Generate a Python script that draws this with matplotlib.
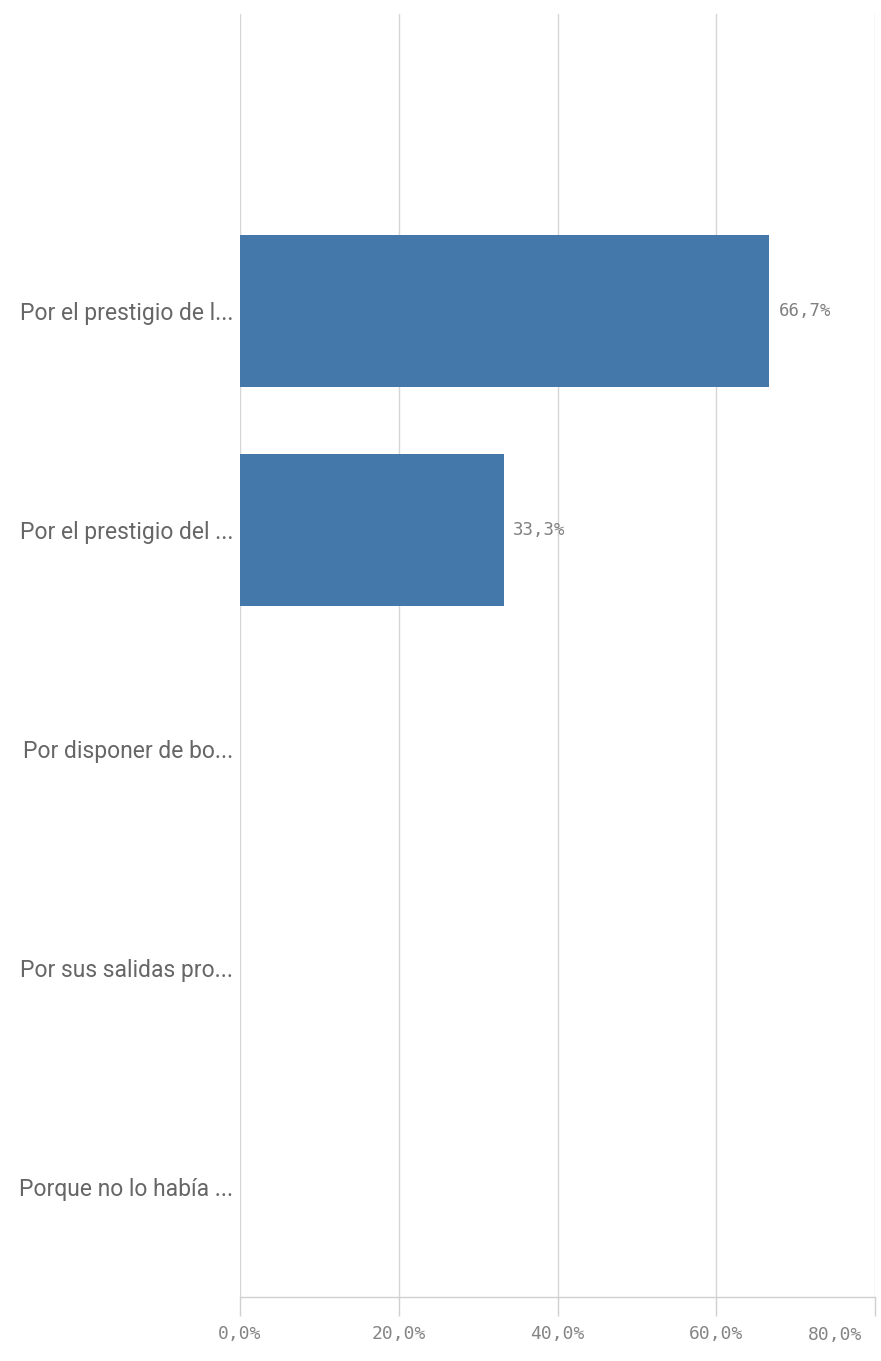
import matplotlib
matplotlib.use("Agg")
import matplotlib.pyplot as plt

categories = ["Por el prestigio de l...", "Por el prestigio del ...", "Por disponer de bo...",
              "Por sus salidas pro...", "Porque no lo había ..."]
values = [66.7, 33.3, 0, 0, 0]
value_labels = ["66,7%", "33,3%", "", "", ""]
xticks = [0, 20, 40, 60, 80]
xtick_labels = ["0,0%", "20,0%", "40,0%", "60,0%", "80,0%"]

W, H = 881, 1361
fig = plt.figure(figsize=(W / 100, H / 100), dpi=100)
fig.patch.set_facecolor("white")
ax = fig.add_axes([240 / W, 1 - 1297 / H, (875 - 240) / W, (1297 - 14) / H])

ypos = list(range(len(categories)))
ax.barh(ypos, values, height=0.69, color="#4477aa", zorder=3)
ax.set_xlim(0, 80)
ax.set_ylim(4.502, -1.356)

ax.set_yticks(ypos)
ax.set_yticklabels(categories, family="Roboto", fontsize=16.5, color="#666666")
ax.tick_params(axis="y", length=0, pad=5)

ax.set_xticks(xticks)
shown = xtick_labels[:-1] + [""]
ax.set_xticklabels(shown, family="DejaVu Sans Mono", fontsize=13, color="#858585")
ax.tick_params(axis="x", length=14, width=1, color="#d0d0d0", pad=6)
# last tick label kept inside the figure (right-aligned, as in the reference)
ax.annotate(xtick_labels[-1], (xticks[-1], 0), xycoords=("data", "axes fraction"),
            xytext=(-9, -27.5), textcoords="offset points", ha="right", va="center",
            family="DejaVu Sans Mono", fontsize=13, color="#858585")

ax.grid(axis="x", color="#d6d6d6", linewidth=1, zorder=0)
for s in ["top", "right", "left"]:
    ax.spines[s].set_visible(False)
ax.spines["bottom"].set_color("#d0d0d0")
ax.spines["bottom"].set_linewidth(1)

for y, v, lab in zip(ypos, values, value_labels):
    if lab:
        ax.annotate(lab, (v, y), xytext=(6.5, 0), textcoords="offset points",
                    va="center", ha="left", family="DejaVu Sans Mono",
                    fontsize=12.5, color="#808080")

fig.savefig("out.png", dpi=100, facecolor="white")
